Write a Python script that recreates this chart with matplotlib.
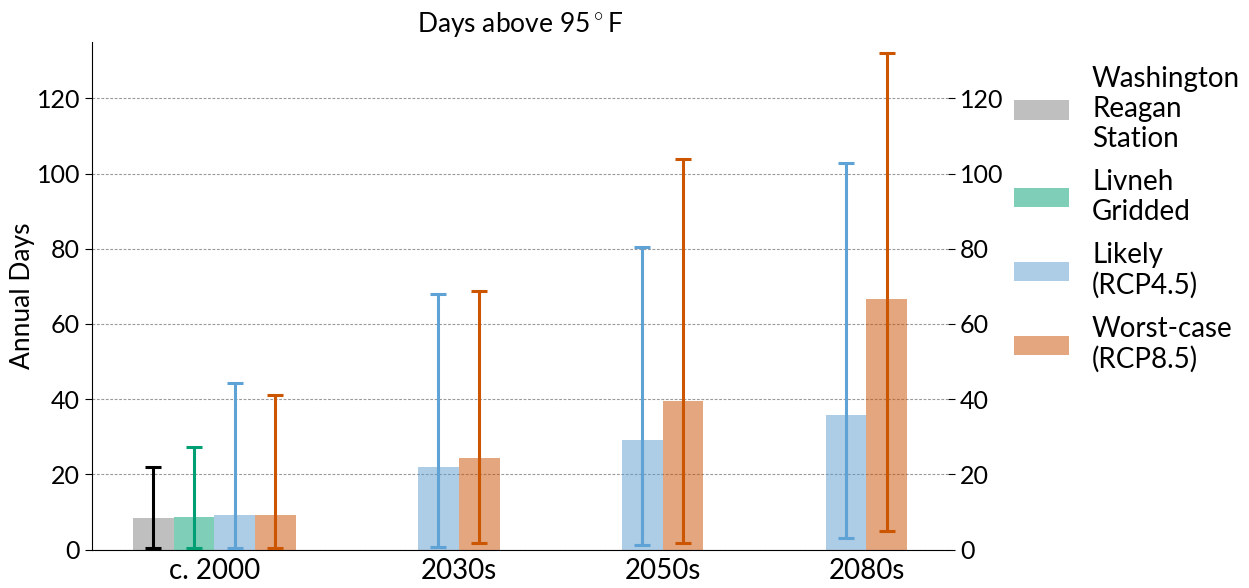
import matplotlib
matplotlib.use('Agg')
import matplotlib.pyplot as plt
import numpy as np

plt.rcParams['font.family'] = ['Lato', 'DejaVu Sans']
plt.rcParams['mathtext.fontset'] = 'custom'
plt.rcParams['mathtext.rm'] = 'Lato'

# data (annual days above 95F)
periods = ['c. 2000', '2030s', '2050s', '2080s']
period_pos = [0.0, 1.2, 2.2, 3.2]

station_val = [8.3]
station_lo = [0.3]
station_hi = [21.9]

livneh_val = [8.7]
livneh_lo = [0.3]
livneh_hi = [27.3]

likely_val = [9.2, 22.0, 29.1, 35.7]
likely_lo = [0.3, 0.6, 1.1, 3.1]
likely_hi = [44.2, 67.9, 80.6, 102.7]

worst_val = [9.2, 24.3, 39.6, 66.6]
worst_lo = [0.3, 1.8, 1.6, 4.8]
worst_hi = [41.0, 68.8, 103.8, 132.0]

labels = ['Washington\nReagan\nStation', 'Livneh\nGridded', 'Likely\n(RCP4.5)', 'Worst-case\n(RCP8.5)']
colors = ['#808080', '#009e73', '#5d9bcd', '#c84f00']
err_colors = ['#000000', '#009e73', '#5fa2d6', '#cc5500']

w = 0.2

fig = plt.figure(figsize=(12.49, 5.88), dpi=100)
ax = fig.add_axes([92 / 1249, 1 - 549.5 / 588, (948 - 92) / 1249, (549.5 - 42) / 588])


def draw(xs, val, lo, hi, i):
    val = np.array(val)
    yerr = [val - np.array(lo), np.array(hi) - val]
    ax.bar(xs, val, width=w, color=colors[i], alpha=0.5, label=labels[i], zorder=2)
    ax.errorbar(xs, val, yerr=yerr, fmt='none', ecolor=err_colors[i], elinewidth=2.2,
                capsize=5.5, capthick=2.2, zorder=3)


pos = np.array(period_pos)
draw([pos[0] - 0.3], station_val, station_lo, station_hi, 0)
draw([pos[0] - 0.1], livneh_val, livneh_lo, livneh_hi, 1)
likely_x = np.concatenate([[pos[0] + 0.1], pos[1:] - 0.1])
worst_x = np.concatenate([[pos[0] + 0.3], pos[1:] + 0.1])
draw(likely_x, likely_val, likely_lo, likely_hi, 2)
draw(worst_x, worst_val, worst_lo, worst_hi, 3)

ax.set_xlim(-0.6, 3.6)
ax.set_ylim(0, 135)
ax.set_xticks(pos)
ax.set_xticklabels(periods, fontsize=20)
ax.tick_params(axis='x', length=0, pad=6)
ax.set_yticks(np.arange(0, 121, 20))
ax.tick_params(axis='y', labelsize=18, length=5)
ax.set_ylabel('Annual Days', fontsize=19, labelpad=1)
ax.set_title('Days above 95$^\\circ$F', fontsize=19, pad=7)
ax.grid(axis='y', color='#999999', linestyle=(0, (2.5, 1.5)), linewidth=0.8, zorder=0)
ax.set_axisbelow(True)
for s in ['top', 'right']:
    ax.spines[s].set_visible(False)

ax2 = ax.twinx()
ax2.set_ylim(ax.get_ylim())
ax2.set_yticks(np.arange(0, 121, 20))
ax2.tick_params(axis='y', labelsize=18, length=5)
for s in ['top', 'right', 'left', 'bottom']:
    ax2.spines[s].set_visible(False)

h, l = ax.get_legend_handles_labels()
fig.legend(h, l, loc='upper left', bbox_to_anchor=(1014 / 1249, 1 - 66 / 588),
           frameon=False, fontsize=20, handlelength=1.98, handleheight=0.68,
           handletextpad=0.83, labelspacing=0.6, borderpad=0, borderaxespad=0)

fig.savefig('out.png', dpi=100)
